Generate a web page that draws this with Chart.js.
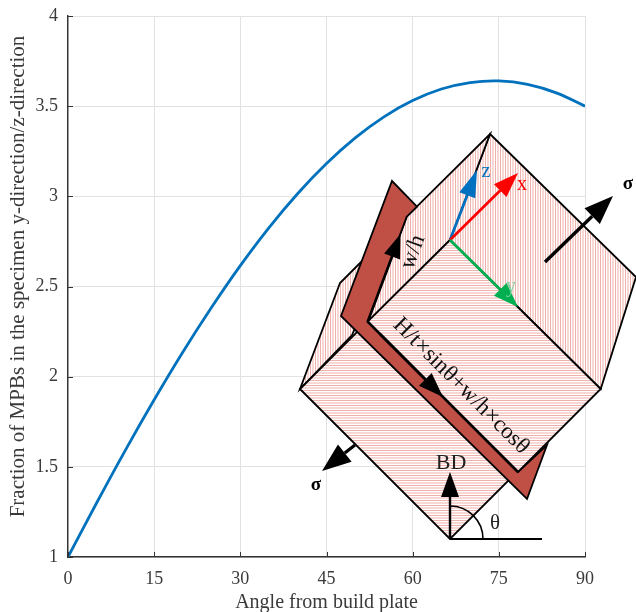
<!DOCTYPE html>
<html><head><meta charset="utf-8">
<style>html,body{margin:0;padding:0;background:#fff}canvas{display:block}</style>
<script src="https://cdn.jsdelivr.net/npm/chart.js@4"></script>
</head><body><canvas id="c" width="636" height="612"></canvas>
<script>
const angles = [0,5,10,15,20,25,30,35,40,45,50,55,60,65,70,75,80,85,90];
const fractions = [1,1.301,1.593,1.872,2.137,2.385,2.616,2.827,3.016,3.182,3.324,3.441,3.531,3.595,3.631,3.640,3.621,3.574,3.5];
const xTitle = "Angle from build plate";
const yTitle = "Fraction of MPBs in the specimen y-direction/z-direction";
const SERIF = '"Liberation Serif","Times New Roman",serif';
const INK = '#3a3a3a';

// Inset schematic geometry (page pixels; not data)
const faceTopRight = [[490,134],[636,277],[600.7,389],[450,240]];
const faceTopLeft = [[406.7,216.7],[490,134],[450,240],[367.7,321.7]];
const faceLeft = [[300,389],[340,283],[365,258],[385,262],[352,335]];
const faceUpper = [[367.7,321.7],[450,240],[600.7,389],[518,472]];
const faceLower = [[300,389],[450,539],[510,479],[360,329]];
const layer = [[392,181],[417,206.7],[406.7,216.7],[367.7,321.7],[518,472],[547,445],[527,499],[341,316]];

function poly(g,p){g.beginPath();p.forEach((q,i)=>i?g.lineTo(q[0],q[1]):g.moveTo(q[0],q[1]));g.closePath();}
function hatch(g,p,vertical){
  g.save();poly(g,p);g.fillStyle='#fff';g.fill();g.clip();
  g.strokeStyle='#efb1ab';g.lineWidth=1;g.beginPath();
  if(vertical){for(let x=290.5;x<640;x+=2.5){g.moveTo(x,120);g.lineTo(x,550);}}
  else{for(let y=120.5;y<550;y+=2.5){g.moveTo(290,y);g.lineTo(640,y);}}
  g.stroke();g.restore();
  g.strokeStyle='#000';g.lineWidth=1.8;g.lineJoin='miter';poly(g,p);g.stroke();
}
function arrow(g,a,b,color,lw,headLen,headW){
  const dx=b[0]-a[0],dy=b[1]-a[1],L=Math.hypot(dx,dy),u=dx/L,v=dy/L;
  const bx=b[0]-u*headLen,by=b[1]-v*headLen;
  g.strokeStyle=color;g.lineWidth=lw;g.lineCap='butt';
  g.beginPath();g.moveTo(a[0],a[1]);g.lineTo(bx,by);g.stroke();
  g.fillStyle=color;g.beginPath();g.moveTo(b[0],b[1]);
  g.lineTo(bx-v*headW/2,by+u*headW/2);g.lineTo(bx+v*headW/2,by-u*headW/2);g.closePath();g.fill();
}
function label(g,t,x,y,font,color,rot){
  g.save();g.translate(x,y);g.rotate(rot||0);g.font=font;g.fillStyle=color;
  g.textAlign='center';g.textBaseline='middle';g.fillText(t,0,0);g.restore();
}
const inset = {
  id:'inset',
  afterDatasetsDraw(chart){
    const g=chart.ctx,xs=chart.scales.x,ys=chart.scales.y;
    g.save();
    g.strokeStyle='#333';g.lineWidth=1;g.beginPath();
    xs.ticks.forEach(t=>{const p=Math.round(xs.getPixelForValue(t.value))+.5;g.moveTo(p,ys.bottom);g.lineTo(p,ys.bottom-5);});
    ys.ticks.forEach(t=>{const p=Math.round(ys.getPixelForValue(t.value))+.5;g.moveTo(xs.left,p);g.lineTo(xs.left+5,p);});
    g.stroke();

    label(g,yTitle,18,276.5,'21px '+SERIF,INK,-Math.PI/2);

    hatch(g,faceLeft,true);
    hatch(g,faceLower,false);
    hatch(g,faceTopRight,true);
    hatch(g,faceTopLeft,true);
    g.fillStyle='#c05046';g.strokeStyle='#000';g.lineWidth=1.8;poly(g,layer);g.fill();g.stroke();
    hatch(g,faceUpper,false);
    g.strokeStyle='#000';g.lineWidth=2.6;g.beginPath();
    g.moveTo(518,472);g.lineTo(367.7,321.7);g.stroke();
    arrow(g,[367.7,321.7],[400.5,234],'#000',2.6,24,17);
    arrow(g,[380,334],[443,397],'#000',2.6,25,18);
    arrow(g,[450,240],[477,170],'#0070C0',2.7,27,17);
    arrow(g,[450,240],[518,173],'#FF0000',2.7,25,18);
    arrow(g,[450,240],[518,307],'#00B050',2.7,25,18);
    label(g,'z',486,172,'20px '+SERIF,'#0070C0');
    label(g,'x',522,185,'20px '+SERIF,'#FF0000');
    label(g,'y',511,287,'20px '+SERIF,'#7fd0a0');
    arrow(g,[545,262],[613,196],'#000',3.3,29,22);
    arrow(g,[355,445],[322,471],'#000',3.3,29,22);
    label(g,'σ',628,184,'bold 19px '+SERIF,'#000');
    label(g,'σ',316,485,'bold 19px '+SERIF,'#000');
    g.strokeStyle='#000';g.lineWidth=2;g.beginPath();g.moveTo(450,539);g.lineTo(542,539);g.stroke();
    g.lineWidth=1.6;g.beginPath();g.arc(450,539,33,-Math.PI/2,0);g.stroke();
    arrow(g,[450,539],[450,472],'#000',2.4,25,18);
    label(g,'BD',451,463,'22px '+SERIF,'#222');
    label(g,'θ',495,523,'21px '+SERIF,'#222');
    label(g,'w/h',413,252,'23px '+SERIF,'#111',-70*Math.PI/180);
    label(g,'H/t×sinθ+w/h×cosθ',461,386,'23px '+SERIF,'#111',Math.PI/4);
    g.restore();
  }
};
new Chart(document.getElementById('c'),{
  type:'line',
  plugins:[inset],
  data:{labels:angles,datasets:[{data:angles.map((a,i)=>({x:a,y:fractions[i]})),borderColor:'#0072BD',borderWidth:2.8,pointRadius:0,tension:0.4,fill:false}]},
  options:{
    responsive:false,animation:false,devicePixelRatio:1,
    layout:{padding:{left:0,right:51,top:16,bottom:0}},
    plugins:{legend:{display:false},tooltip:{enabled:false}},
    scales:{
      x:{type:'linear',min:0,max:90,
        afterFit(s){s.height=55;s.paddingLeft=0;s.paddingRight=0;},
        ticks:{stepSize:15,color:INK,padding:11,maxRotation:0,font:{family:SERIF,size:18}},
        grid:{color:'#e2e2e2',lineWidth:1,drawTicks:false},
        border:{color:'#333',width:1.4},
        title:{display:true,text:xTitle,color:INK,padding:{top:1,bottom:-3},font:{family:SERIF,size:20}}},
      y:{min:1,max:4,
        afterFit(s){s.width=68;s.paddingTop=0;s.paddingBottom=0;},
        ticks:{stepSize:.5,color:INK,padding:10,font:{family:SERIF,size:18},callback:v=>String(v)},
        grid:{color:'#e2e2e2',lineWidth:1,drawTicks:false},
        border:{color:'#333',width:1.4},
        title:{display:false}}
    }
  }
});
</script></body></html>
